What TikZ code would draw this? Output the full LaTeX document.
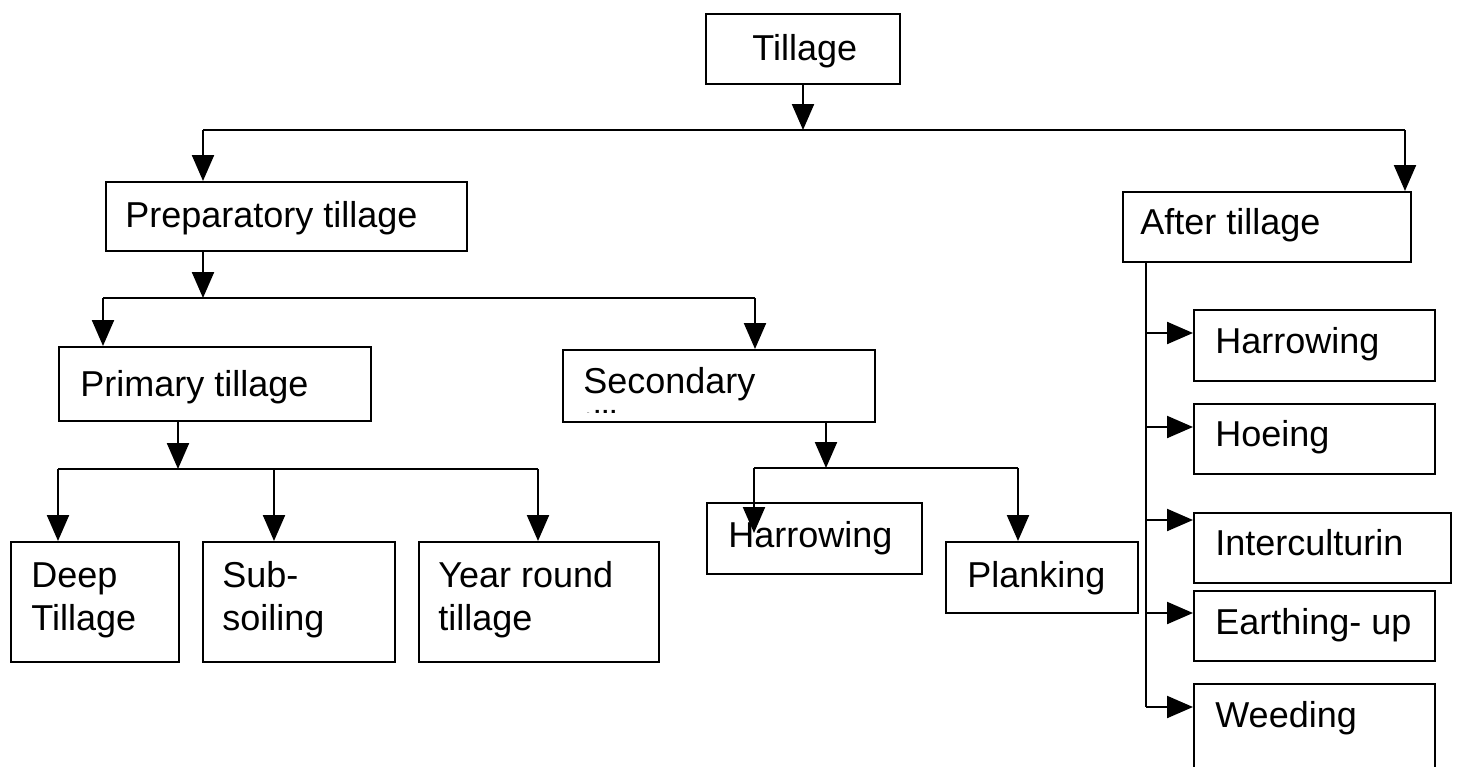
\documentclass[tikz,border=0pt]{standalone}
\usepackage{fontspec}
\setmainfont{Liberation Sans}
\usetikzlibrary{arrows.meta}
% box from top-left (x1,y1) to bottom-right (x2,y2), in pixel units
\newcommand\tbox[5]{%
  \node[boxshape, anchor=north west,
        minimum width={(#4-#2)*0.5pt}, minimum height={(#5-#3)*0.5pt}] (#1) at (#2,#3) {};}
\begin{document}
\begin{tikzpicture}[x=0.5pt, y=-0.5pt,
  boxshape/.style={draw, line width=1.1pt, inner sep=0pt, fill=none},
  lbl/.style={inner sep=0pt, anchor=base west, align=left,
              font=\fontsize{18}{21.5}\selectfont},
  conn/.style={line width=1.1pt},
  arr/.style={conn, -{Triangle[length=13pt, width=11pt]}}]
\useasboundingbox (0,0) rectangle (1457,766);

% boxes
\tbox{till}{705}{13}{899}{83}
\tbox{prep}{105}{181}{466}{250}
\tbox{after}{1122}{191}{1410}{261}
\tbox{prim}{58}{346}{370}{420}
\tbox{sec}{562}{349}{874}{421}
\tbox{deep}{10}{541}{178}{661}
\tbox{sub}{202}{541}{394}{661}
\tbox{year}{418}{541}{658}{661}
\tbox{harrow}{706}{502}{921}{573}
\tbox{plank}{945}{541}{1137}{612}
\tbox{rharrow}{1193}{309}{1434}{380}
\tbox{hoe}{1193}{403}{1434}{473}
\tbox{inter}{1193}{512}{1450}{582}
\tbox{earth}{1193}{590}{1434}{660}
\tbox{weed}{1193}{683}{1434}{790}

% labels (two-line labels are placed by the baseline of their last line)
\node[lbl] (t-till) at (752,60) {Tillage};
\node[lbl] (t-prep) at (125,227) {Preparatory tillage};
\node[lbl] (t-after) at (1140,234) {After tillage};
\node[lbl] (t-prim) at (80,396) {Primary tillage};
\begin{scope}
  \clip (562,349) rectangle (874,412);
  \node[lbl] (t-sec) at (583,436) {Secondary\\tillage};
\end{scope}
\node[lbl] (t-deep) at (31,630) {Deep\\Tillage};
\node[lbl] (t-sub) at (222,630) {Sub-\\soiling};
\node[lbl] (t-year) at (438,630) {Year round\\tillage};
\node[lbl] (t-harrow) at (728,547) {Harrowing};
\node[lbl] (t-plank) at (967,587) {Planking};
\node[lbl] (t-rharrow) at (1215,353) {Harrowing};
\node[lbl] (t-hoe) at (1215,446) {Hoeing};
\node[lbl] (t-inter) at (1215,555) {Interculturin};
\node[lbl] (t-earth) at (1215,634) {Earthing- up};
\node[lbl] (t-weed) at (1215,727) {Weeding};

% Tillage -> two main kinds
\coordinate (j0) at (803,130);
\coordinate (jL) at (203,130);
\coordinate (jR) at (1405,130);
\draw[arr] (j0 |- till.south) -- (j0);
\draw[conn] (jL) -- (jR);
\draw[arr] (jL) -- (jL |- prep.north);
\draw[arr] (jR) -- (jR |- after.north);

% Preparatory tillage -> primary / secondary
\coordinate (p0) at (203,298);
\coordinate (pL) at (103,298);
\coordinate (pR) at (755,298);
\draw[arr] (p0 |- prep.south) -- (p0);
\draw[conn] (pL) -- (pR);
\draw[arr] (pL) -- (pL |- prim.north);
\draw[arr] (pR) -- (pR |- sec.north);

% Primary tillage -> three kinds
\coordinate (q0) at (178,469);
\coordinate (qL) at (58,469);
\coordinate (qM) at (274,469);
\coordinate (qR) at (538,469);
\draw[arr] (q0 |- prim.south) -- (q0);
\draw[conn] (qL) -- (qR);
\draw[arr] (qL) -- (qL |- deep.north);
\draw[arr] (qM) -- (qM |- sub.north);
\draw[arr] (qR) -- (qR |- year.north);

% Secondary tillage -> harrowing / planking
\coordinate (s0) at (826,468);
\coordinate (sL) at (754,468);
\coordinate (sR) at (1018,468);
\coordinate (sLend) at (754,533);
\draw[arr] (s0 |- sec.south) -- (s0);
\draw[conn] (sL) -- (sR);
\draw[arr] (sL) -- (sLend);
\draw[arr] (sR) -- (sR |- plank.north);

% After tillage -> operations
\coordinate (b1) at (1146,333);
\coordinate (b2) at (1146,427);
\coordinate (b3) at (1146,520);
\coordinate (b4) at (1146,613);
\coordinate (b5) at (1146,707);
\draw[conn] (b1 |- after.south) -- (b5);
\draw[arr] (b1) -- (b1 -| rharrow.west);
\draw[arr] (b2) -- (b2 -| hoe.west);
\draw[arr] (b3) -- (b3 -| inter.west);
\draw[arr] (b4) -- (b4 -| earth.west);
\draw[arr] (b5) -- (b5 -| weed.west);
\end{tikzpicture}
\end{document}
